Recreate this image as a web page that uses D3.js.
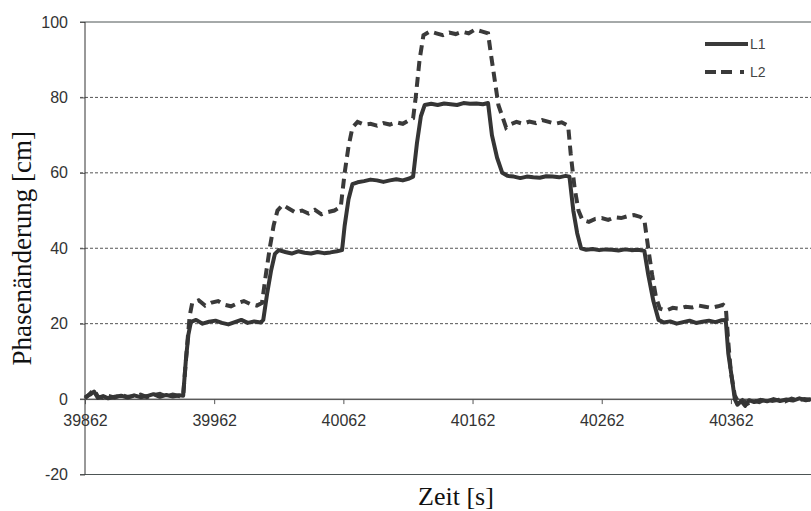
<!DOCTYPE html>
<html>
<head>
<meta charset="utf-8">
<script src="https://cdn.jsdelivr.net/npm/d3@7"></script>
<style>
  body { margin: 0; background: #fff; }
</style>
</head>
<body>
<div id="chart"></div>
<script>
// tick values
const yTicks = [-20, 0, 20, 40, 60, 80, 100]
const xTicks = [39862, 39962, 40062, 40162, 40262, 40362]
const seriesNames = ["L1", "L2"]

// L1 (solid) [time, value]
const l1Data = [
  [39862,0.5],[39866,1.2],[39869,2.0],[39872,0.3],[39876,0.8],[39880,0.2],[39885,0.6],[39890,0.9],
  [39895,0.4],[39900,1.0],[39905,0.5],[39910,0.8],[39915,1.3],[39920,0.6],[39925,1.1],[39930,0.7],
  [39935,1.0],[39938,0.9],
  [39940,10],[39942,17],[39944,20.5],[39948,21],[39953,20],[39958,20.5],[39963,20.8],[39968,20.2],
  [39973,19.8],[39978,20.4],[39983,21],[39988,20.2],[39993,20.6],[39998,20.3],[40000,21],
  [40003,28],[40006,34],[40009,38.5],[40012,39.5],[40017,39],[40022,38.6],[40027,39.2],[40032,38.8],
  [40037,38.6],[40042,39],[40047,38.7],[40052,38.9],[40057,39.2],[40061,39.5],
  [40063,46],[40066,53],[40069,57],[40073,57.5],[40078,57.8],[40083,58.2],[40088,58],[40093,57.6],
  [40098,58],[40103,58.3],[40108,58],[40113,58.5],[40116,59],
  [40119,68],[40122,75],[40125,78],[40130,78.3],[40135,78],[40140,78.4],[40145,78.2],[40150,78],
  [40155,78.5],[40160,78.3],[40165,78.4],[40170,78.2],[40174,78.5],
  [40177,70],[40181,64],[40185,60],[40189,59.2],[40194,59],[40199,58.6],[40204,59],[40209,58.8],
  [40214,58.7],[40219,59.1],[40224,59],[40229,58.8],[40234,59.2],[40237,59],
  [40240,50],[40243,44],[40246,40],[40250,39.6],[40255,39.8],[40260,39.5],[40265,39.7],[40270,39.6],
  [40275,39.4],[40280,39.7],[40285,39.5],[40290,39.6],[40295,39.3],
  [40298,33],[40302,26],[40306,21],[40310,20.3],[40315,20.6],[40320,20],[40325,20.4],[40330,20.8],
  [40335,20.2],[40340,20.5],[40345,20.8],[40350,20.4],[40355,20.9],[40358,21],
  [40360,12],[40363,5],[40365,0],[40367,-1.5],[40370,-0.5],[40373,-1.8],[40376,-0.3],[40380,-0.8],
  [40385,-0.2],[40390,-0.6],[40395,0],[40400,-0.5],[40405,-0.1],[40410,-0.4],[40415,0.2],[40420,-0.3],
  [40424,0]
]

// L2 (dashed) [time, value]
const l2Data = [
  [39862,0.2],[39866,1.5],[39869,2.5],[39872,0.6],[39876,0.3],[39880,0.9],[39885,0.4],[39890,1.1],
  [39895,0.6],[39900,0.8],[39905,1.2],[39910,0.5],[39915,1.0],[39920,1.4],[39925,0.7],[39930,1.2],
  [39935,0.8],[39938,1.1],
  [39941,14],[39943,22],[39945,25.5],[39950,26.2],[39955,24.8],[39960,25.6],[39965,26],[39970,25],
  [39975,24.6],[39980,25.4],[39985,26],[39990,25.2],[39995,24.8],[39999,25.5],
  [40002,33],[40005,40],[40008,46],[40011,50],[40015,51.5],[40020,50.5],[40025,49.5],[40030,50],
  [40035,49.2],[40040,50.2],[40045,49],[40050,49.6],[40055,50],[40060,51],
  [40063,60],[40066,67],[40069,72],[40073,73.5],[40078,72.8],[40083,73],[40088,72.5],[40093,73.2],
  [40098,72.8],[40103,73.4],[40108,73],[40113,74],[40116,74.5],
  [40118,80],[40121,90],[40124,96.5],[40129,97.5],[40134,97],[40139,96.5],[40144,97.2],[40149,96.8],
  [40154,97.4],[40159,97],[40164,98],[40169,97.5],[40174,97],
  [40176,92],[40179,85],[40182,78],[40185,75],[40188,72],[40191,72.8],[40196,73.5],[40201,73],
  [40206,73.6],[40211,73.2],[40216,74],[40221,73.5],[40226,73],[40231,73.4],[40236,72.5],
  [40238,65],[40241,56],[40244,50],[40247,47.5],[40252,47],[40257,47.8],[40262,48],[40267,47.5],
  [40272,48.2],[40277,48],[40282,48.5],[40287,48.8],[40292,48.3],[40295,47.5],
  [40298,40],[40301,33],[40304,27],[40307,24],[40312,23.5],[40317,24.2],[40322,24],[40327,24.5],
  [40332,24.3],[40337,24.8],[40342,24.5],[40347,24.2],[40352,24.6],[40356,25],[40358,24.5],
  [40360,15],[40362,7],[40365,1],[40368,-1],[40371,-0.3],[40375,-1.2],[40379,-0.4],[40384,-0.8],
  [40389,0],[40394,-0.5],[40399,-0.2],[40404,-0.6],[40409,0.1],[40414,-0.3],[40419,0],[40424,-0.2]
]

const w = 811
const h = 511
const plotLeft = 85
const plotTop = 22
const plotBottom = 474.5

const xScale = d3.scaleLinear()
  .domain([39862, 40424])
  .range([plotLeft, w])

const yScale = d3.scaleLinear()
  .domain([-20, 100])
  .range([plotBottom, plotTop])

const svg = d3.select("#chart")
  .append("svg")
  .attr("width", w)
  .attr("height", h)
  .style("font-family", "Arial, 'Liberation Sans', sans-serif")

// horizontal grid lines
svg.append("g")
  .selectAll("line")
  .data(yTicks)
  .enter()
  .append("line")
  .attr("x1", plotLeft - 5)
  .attr("x2", w)
  .attr("y1", d => yScale(d))
  .attr("y2", d => yScale(d))
  .attr("stroke", d => (d === -20 || d === 100) ? "#4d5555" : "#555")
  .attr("stroke-width", 1)
  .attr("stroke-dasharray", d => (d === -20 || d === 100 || d === 0) ? null : "3,2")

// y axis (plain hyphen for negatives, like the original)
const yAxis = d3.axisLeft(yScale).tickValues(yTicks).tickSize(5).tickPadding(12)
  .tickFormat(d => String(d))
const gy = svg.append("g")
  .attr("transform", "translate(" + plotLeft + ",0)")
  .call(yAxis)
gy.select(".domain").remove()
gy.selectAll(".tick line").attr("stroke", "#555")
gy.selectAll("text")
  .attr("fill", "#333")
  .style("font-size", "16px")
  .style("font-family", "Arial, 'Liberation Sans', sans-serif")

svg.append("line")
  .attr("x1", plotLeft).attr("x2", plotLeft)
  .attr("y1", plotTop).attr("y2", plotBottom)
  .attr("stroke", "#333")

// x axis on the zero line
const xAxis = d3.axisBottom(xScale).tickValues(xTicks).tickSize(5).tickFormat(d => d)
const gx = svg.append("g")
  .attr("transform", "translate(0," + yScale(0) + ")")
  .call(xAxis)
gx.select(".domain").attr("stroke", "#555")
gx.selectAll(".tick line").attr("stroke", "#555")
gx.selectAll("text")
  .attr("y", 16)
  .attr("fill", "#333")
  .style("font-size", "16px")
  .style("font-family", "Arial, 'Liberation Sans', sans-serif")

// series lines
const line = d3.line()
  .x(d => xScale(d[0]))
  .y(d => yScale(d[1]))

svg.append("path")
  .datum(l2Data)
  .attr("d", line)
  .attr("fill", "none")
  .attr("stroke", "#3a3a3a")
  .attr("stroke-width", 4)
  .attr("stroke-dasharray", "10,6")

svg.append("path")
  .datum(l1Data)
  .attr("d", line)
  .attr("fill", "none")
  .attr("stroke", "#353535")
  .attr("stroke-width", 4)
  .attr("stroke-linejoin", "round")

// legend
const legend = svg.append("g")
seriesNames.forEach((name, i) => {
  const ly = 44 + i * 28
  legend.append("line")
    .attr("x1", 705).attr("x2", 748)
    .attr("y1", ly).attr("y2", ly)
    .attr("stroke", "#3a3a3a")
    .attr("stroke-width", 4)
    .attr("stroke-dasharray", i === 0 ? null : "11,5,11,8,4,4")
  legend.append("text")
    .attr("x", 750)
    .attr("y", ly)
    .attr("dy", "0.35em")
    .attr("fill", "#444")
    .style("font-size", "14px")
    .text(name)
})

// axis titles
svg.append("text")
  .attr("transform", "translate(31," + ((plotTop + plotBottom) / 2) + ") rotate(-90)")
  .attr("text-anchor", "middle")
  .style("font-family", "'Liberation Serif', 'Times New Roman', serif")
  .style("font-size", "27px")
  .attr("fill", "#111")
  .text("Phasenänderung [cm]")

svg.append("text")
  .attr("x", 456)
  .attr("y", 505)
  .attr("text-anchor", "middle")
  .style("font-family", "'Liberation Serif', 'Times New Roman', serif")
  .style("font-size", "26px")
  .attr("fill", "#111")
  .text("Zeit [s]")
</script>
</body>
</html>
